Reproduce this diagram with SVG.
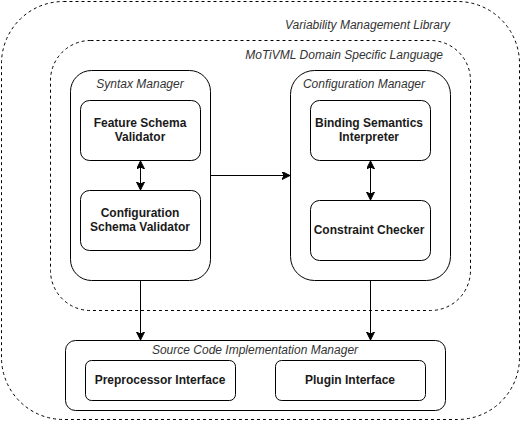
<svg xmlns="http://www.w3.org/2000/svg" width="521" height="421" viewBox="0 0 521 421">
<defs>
<marker id="ah" markerWidth="10" markerHeight="10" refX="8" refY="4" orient="auto-start-reverse" markerUnits="userSpaceOnUse">
<path d="M0,0 L8,4 L0,8 L2,4 Z" fill="#000" stroke="#000" stroke-width="1"/>
</marker>
<style>
.dash{fill:none;stroke:#000;stroke-width:1;stroke-dasharray:3 3}
.box{fill:#fff;stroke:#000;stroke-width:1}
.it{font-family:"Liberation Sans",Arial,sans-serif;font-size:12px;font-style:italic;fill:#333}
.b{font-family:"Liberation Sans",Arial,sans-serif;font-size:12px;font-weight:bold;fill:#1a1a1a;text-anchor:middle}
.ln{fill:none;stroke:#000;stroke-width:1}
</style>
</defs>
<g id="vml">
<rect class="dash" x="1.5" y="1.5" width="518" height="418" rx="62" ry="62"/>
<text class="it" x="450" y="29" text-anchor="end">Variability Management Library</text>
</g>
<g id="dsl">
<rect class="dash" x="50.5" y="40.5" width="420" height="270" rx="40" ry="40"/>
<text class="it" x="443" y="59" text-anchor="end">MoTiVML Domain Specific Language</text>
</g>
<g id="syntax">
<rect class="box" x="70.5" y="70.5" width="140" height="210" rx="21" ry="21"/>
<text class="it" x="140" y="88" text-anchor="middle">Syntax Manager</text>
</g>
<g id="feature">
<rect class="box" x="80.5" y="100.5" width="120" height="60" rx="9" ry="9"/>
<text class="b" x="140" y="127">Feature Schema</text>
<text class="b" x="140" y="141">Validator</text>
</g>
<g id="confschema">
<rect class="box" x="80.5" y="190.5" width="120" height="60" rx="9" ry="9"/>
<text class="b" x="140" y="217">Configuration</text>
<text class="b" x="140" y="231">Schema Validator</text>
</g>
<g id="config">
<rect class="box" x="290.5" y="70.5" width="160" height="210" rx="24" ry="24"/>
<text class="it" x="364" y="88" text-anchor="middle">Configuration Manager</text>
</g>
<g id="binding">
<rect class="box" x="310.5" y="100.5" width="120" height="60" rx="9" ry="9"/>
<text class="b" x="369" y="127">Binding Semantics</text>
<text class="b" x="369" y="141">Interpreter</text>
</g>
<g id="constraint">
<rect class="box" x="310.5" y="200.5" width="120" height="60" rx="9" ry="9"/>
<text class="b" x="369" y="234">Constraint Checker</text>
</g>
<g id="source">
<rect class="box" x="65.5" y="340.5" width="380" height="70" rx="10" ry="10"/>
<text class="it" x="255" y="354" text-anchor="middle">Source Code Implementation Manager</text>
</g>
<g id="preproc">
<rect class="box" x="85.5" y="360.5" width="150" height="40" rx="6" ry="6"/>
<text class="b" x="160" y="384">Preprocessor Interface</text>
</g>
<g id="plugin">
<rect class="box" x="275.5" y="360.5" width="150" height="40" rx="6" ry="6"/>
<text class="b" x="350" y="384">Plugin Interface</text>
</g>
<g id="connectors">
<line class="ln" x1="140.5" y1="161" x2="140.5" y2="190" marker-start="url(#ah)" marker-end="url(#ah)"/>
<line class="ln" x1="370.5" y1="161" x2="370.5" y2="200" marker-start="url(#ah)" marker-end="url(#ah)"/>
<line class="ln" x1="211" y1="175.5" x2="290" y2="175.5" marker-end="url(#ah)"/>
<line class="ln" x1="140.5" y1="281" x2="140.5" y2="340" marker-end="url(#ah)"/>
<line class="ln" x1="370.5" y1="281" x2="370.5" y2="340" marker-end="url(#ah)"/>
</g>
</svg>
